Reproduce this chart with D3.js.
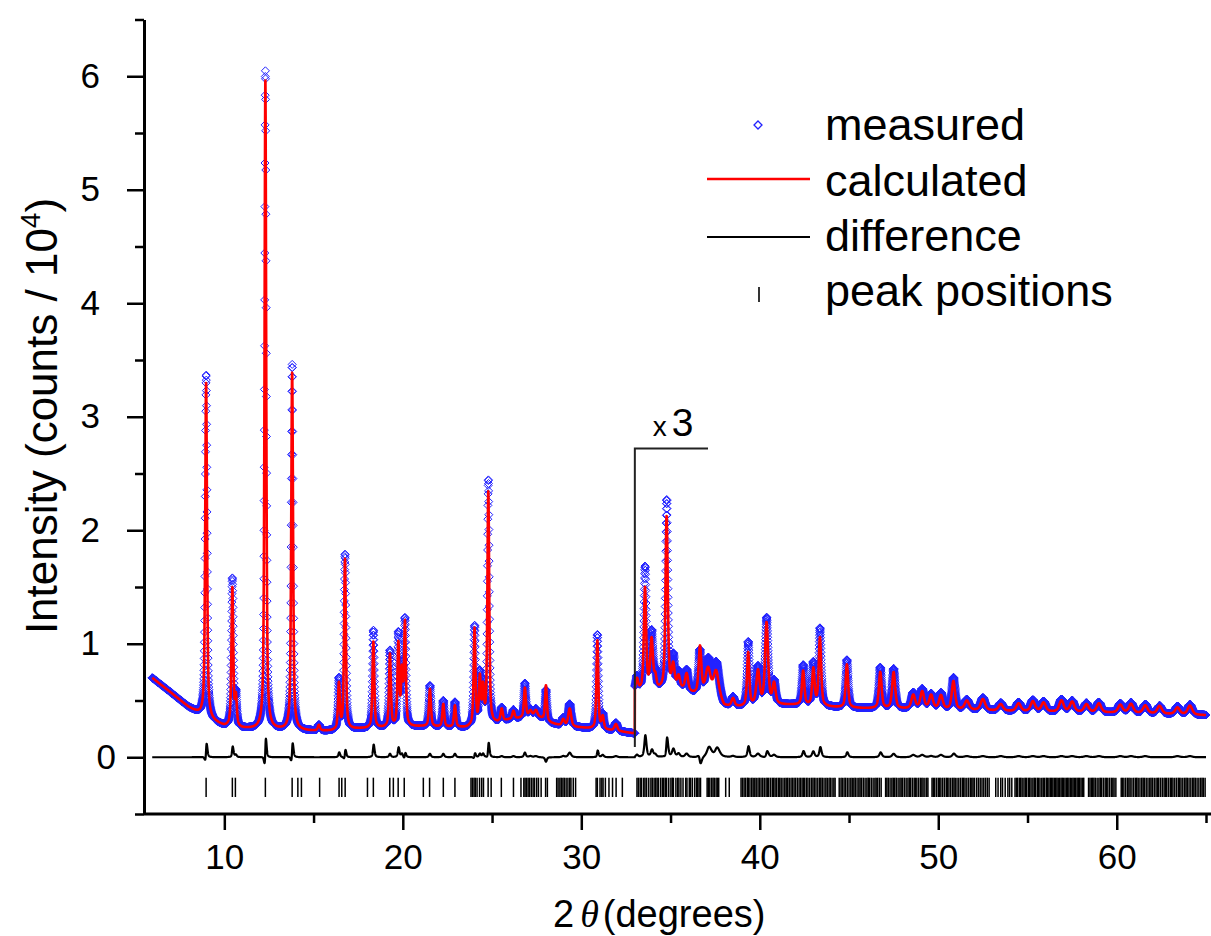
<!DOCTYPE html>
<html><head><meta charset="utf-8">
<script src="https://cdn.jsdelivr.net/npm/d3@7"></script>
<style>
html,body{margin:0;padding:0;background:#fff;}
text{font-family:"Liberation Sans", Arial, sans-serif;fill:#000;}
</style></head><body>
<svg id="chart" width="1211" height="936"></svg>
<script>
// ---------------- data ----------------
const xTicks = [10, 20, 30, 40, 50, 60];
const xMinorTicks = [15, 25, 35, 45, 55, 65];
const yTicks = [0, 1, 2, 3, 4, 5, 6];
const yMinorTicks = [-0.5, 0.5, 1.5, 2.5, 3.5, 4.5, 5.5, 6.5];
const scaleBreak = 33;          // intensities shown x3 above this angle
const scaleFactorLabel = "3";
const stepDeg = 0.006, scanStart = 5.96, scanEnd = 65.0;
const lorentzFraction = 0.6;

// background anchors (displayed units)
const bgLowX  = [5.96, 7.0, 8.0, 8.6, 9.3, 10.0, 11.0, 13.0, 15.0, 16.0, 17.5, 21.0, 23.5, 25.3, 26.0, 27.5, 28.3, 29.0, 30.0, 32.0, 32.99];
const bgLowY  = [0.70, 0.57, 0.44, 0.38, 0.32, 0.27, 0.25, 0.24, 0.23, 0.23, 0.25, 0.27, 0.26, 0.30, 0.33, 0.36, 0.30, 0.27, 0.26, 0.23, 0.21];
const bgHighX = [33.0, 34.0, 35.5, 36.3, 37.8, 38.0, 39.0, 41.0, 42.0, 44.2, 46.0, 50.0, 55.0, 60.0, 65.0];
const bgHighY = [0.58, 0.58, 0.60, 0.55, 0.48, 0.44, 0.44, 0.46, 0.46, 0.44, 0.43, 0.42, 0.40, 0.39, 0.37];

// reflections fitted: position (deg), calculated height, observed height, observed shift (deg), FWHM (deg)
const peakPos    = [8.98, 10.45, 10.65, 12.30, 13.80, 15.30, 16.42, 16.76, 18.35, 19.28, 19.75, 19.95, 20.12, 21.52, 22.27, 22.92, 24.02, 24.32, 24.50, 24.79, 25.54, 26.20, 26.84, 27.15, 27.45, 28.02, 28.99, 29.35, 30.90, 31.20, 31.94,
                    33.12, 33.57, 33.94, 34.15, 34.78, 35.15, 35.45, 35.90, 36.65, 37.10, 37.55, 38.50, 39.35, 39.90, 40.38, 40.80, 42.43, 43.00, 43.37, 44.88,
                    46.75, 47.50, 48.60, 49.10, 49.60, 50.15, 50.85, 51.60, 52.50, 53.50, 54.50, 55.30, 55.90, 56.90, 57.50, 58.30, 59.00, 60.20, 60.80, 61.60, 62.40, 63.40, 64.10];
const calcHeight = [2.95, 1.22, 0.25, 5.72, 3.15, 0.05, 0.40, 1.50, 0.76, 0.64, 0.72, 0.45, 0.90, 0.33, 0.20, 0.19, 0.85, 0.40, 0.30, 2.04, 0.11, 0.07, 0.26, 0.05, 0.05, 0.31, 0.06, 0.16, 0.78, 0.11, 0.06,
                    0.10, 0.90, 0.44, 0.10, 1.52, 0.20, 0.10, 0.15, 0.42, 0.25, 0.25, 0.07, 0.47, 0.30, 0.72, 0.18, 0.30, 0.32, 0.60, 0.38,
                    0.32, 0.32, 0.12, 0.15, 0.12, 0.12, 0.25, 0.08, 0.10, 0.06, 0.07, 0.09, 0.08, 0.10, 0.09, 0.07, 0.08, 0.07, 0.08, 0.07, 0.07, 0.06, 0.08];
const obsHeight  = [3.02, 1.30, 0.27, 5.80, 3.22, 0.05, 0.44, 1.54, 0.86, 0.67, 0.80, 0.48, 0.92, 0.36, 0.23, 0.22, 0.87, 0.43, 0.33, 2.14, 0.12, 0.08, 0.30, 0.06, 0.06, 0.27, 0.07, 0.20, 0.83, 0.13, 0.07,
                    0.12, 1.08, 0.50, 0.12, 1.66, 0.27, 0.13, 0.18, 0.38, 0.33, 0.32, 0.08, 0.56, 0.33, 0.76, 0.20, 0.35, 0.37, 0.68, 0.42,
                    0.36, 0.35, 0.14, 0.17, 0.13, 0.14, 0.28, 0.09, 0.11, 0.07, 0.08, 0.10, 0.09, 0.11, 0.10, 0.08, 0.09, 0.08, 0.09, 0.08, 0.07, 0.07, 0.09];
const obsShift   = [0.002, 0.002, 0, 0.0015, 0.002, 0, 0.002, 0.002, 0.003, 0, 0.002, 0, 0.002, 0, 0, 0, 0.002, 0, 0, 0.002, 0, 0, 0, 0, 0, 0, 0, 0, 0.002, 0, 0,
                    0, 0.004, 0.003, 0, 0.004, 0.003, 0, 0, -0.01, 0.02, 0.02, 0, 0.004, 0, 0.004, 0, 0.004, 0, 0.004, 0.003,
                    0.003, 0, 0, 0, 0, 0, 0.003, 0, 0, 0, 0, 0, 0, 0, 0, 0, 0, 0, 0, 0, 0, 0, 0];
const peakFwhm   = [0.12, 0.12, 0.12, 0.11, 0.12, 0.15, 0.12, 0.12, 0.12, 0.12, 0.12, 0.12, 0.12, 0.13, 0.13, 0.13, 0.12, 0.12, 0.12, 0.12, 0.15, 0.15, 0.13, 0.20, 0.20, 0.12, 0.18, 0.20, 0.12, 0.15, 0.20,
                    0.15, 0.15, 0.18, 0.15, 0.15, 0.18, 0.18, 0.20, 0.18, 0.35, 0.35, 0.20, 0.15, 0.22, 0.20, 0.20, 0.16, 0.16, 0.16, 0.16,
                    0.18, 0.20, 0.25, 0.25, 0.25, 0.25, 0.22, 0.30, 0.30, 0.30, 0.30, 0.30, 0.30, 0.30, 0.30, 0.30, 0.30, 0.30, 0.30, 0.30, 0.30, 0.30, 0.30];

// Bragg reflection markers (deg)
const reflections = [8.98, 10.45, 10.62, 12.30, 13.80, 14.12, 14.32, 15.34, 16.43, 16.58, 16.77, 18.02, 18.35, 19.27, 19.47, 19.74, 20.08, 21.15, 21.50, 22.27, 22.92,
 23.82, 23.90, 23.99, 24.06, 24.16, 24.30, 24.42, 24.52, 24.78, 24.95, 25.52, 26.20, 26.62, 26.78, 26.85, 26.93, 27.02, 27.10, 27.20, 27.30, 27.38, 27.50, 27.60, 27.75, 28.00, 28.10,
 28.62, 28.70, 28.80, 28.88, 28.97, 29.05, 29.15, 29.25, 29.35, 29.42, 29.55, 29.68, 30.83, 30.90, 31.05, 31.15, 31.22, 31.35, 31.55, 31.75, 31.95, 32.30,
 33.12, 33.20, 33.30, 33.38, 33.50, 33.57, 33.66, 33.78, 33.90, 33.98, 34.08, 34.17, 34.25, 34.33, 34.45, 34.55, 34.62, 34.71, 34.78, 34.90, 35.02, 35.10, 35.16, 35.30, 35.40, 35.47, 35.58, 35.70, 35.85, 35.92,
 36.05, 36.12, 36.22, 36.35, 36.45, 36.52, 36.60, 36.68, 37.05, 37.12, 37.20, 37.30, 37.38, 37.45, 37.55, 37.62, 37.70, 38.09, 38.29,
 38.95, 39.03, 39.12, 39.20, 39.30, 39.36, 39.45, 39.55, 39.63, 39.72, 39.80, 39.90, 39.98, 40.07, 40.16, 40.25, 40.35, 40.42, 40.50, 40.60, 40.70, 40.78, 40.86, 40.95,
 41.05, 41.12, 41.20, 41.30, 41.40, 41.48, 41.56, 41.65, 41.75, 41.83, 41.92, 42.00, 42.10, 42.20, 42.28, 42.37, 42.45, 42.52, 42.62, 42.70, 42.80, 42.90, 42.98,
 43.06, 43.15, 43.25, 43.35, 43.42, 43.50, 43.60, 43.70, 43.78, 43.88, 43.95, 44.05, 44.15, 44.22, 44.45, 44.55, 44.62, 44.72, 44.80, 44.90, 45.00, 45.10, 45.18, 45.27, 45.35, 45.45, 45.55, 45.62, 45.70, 45.80, 45.90,
 46.00, 46.08, 46.15, 46.25, 46.35, 46.45, 46.52, 46.60, 46.70, 46.80, 47.05, 47.12, 47.20, 47.30, 47.40, 47.48, 47.56, 47.65, 47.75, 47.85, 47.92,
 48.00, 48.10, 48.20, 48.30, 48.38, 48.45, 48.55, 48.65, 48.72, 48.80, 48.90, 49.00, 49.08, 49.15, 49.25, 49.35, 49.42, 49.65, 49.72, 49.80, 49.90,
 50.00, 50.08, 50.15, 50.25, 50.35, 50.45, 50.52, 50.60, 50.70, 50.80, 50.88, 50.95, 51.05, 51.15, 51.25, 51.35, 51.42, 51.50, 51.60, 51.70, 51.80, 51.88, 51.95,
 52.03, 52.15, 52.25, 52.35, 52.45, 52.55, 52.65, 52.75, 52.85, 53.22, 53.35, 53.50, 53.60, 53.75, 53.90, 54.00, 54.12, 54.30, 54.38, 54.45, 54.55, 54.62, 54.70, 54.80, 54.88, 54.95,
 55.05, 55.12, 55.20, 55.30, 55.38, 55.45, 55.55, 55.62, 55.70, 55.80, 55.88, 55.95, 56.05, 56.12, 56.20, 56.28, 56.35, 56.42, 56.50, 56.58, 56.65, 56.72, 56.80, 56.88, 56.95,
 57.02, 57.10, 57.18, 57.25, 57.32, 57.40, 57.48, 57.55, 57.62, 57.70, 57.78, 57.85, 57.92, 58.00, 58.08, 58.15, 58.42, 58.50, 58.58, 58.65, 58.72, 58.80, 58.90,
 59.00, 59.08, 59.15, 59.25, 59.35, 59.42, 59.50, 59.60, 59.70, 59.78, 59.85, 59.95, 60.25, 60.32, 60.40, 60.50, 60.60, 60.68, 60.75, 60.85, 60.95,
 61.05, 61.12, 61.20, 61.30, 61.40, 61.48, 61.55, 61.65, 61.75, 61.85, 61.92, 62.00, 62.10, 62.20, 62.28, 62.35, 62.45, 62.55, 62.65, 62.72, 62.80, 62.90,
 63.00, 63.08, 63.15, 63.25, 63.35, 63.45, 63.52, 63.60, 63.70, 63.80, 63.88, 63.95, 64.05, 64.15, 64.25, 64.32, 64.40, 64.50, 64.60, 64.70, 64.78, 64.85, 64.95];
const reflectionTop = -0.18, reflectionBottom = -0.35;
const bracketTop = 2.72, bracketBottom = 0.09, bracketEnd = 37.1;

const legendLabels = ["measured", "calculated", "difference", "peak positions"];

// ---------------- scales ----------------
const svg = d3.select("#chart");
const x = d3.scaleLinear().domain([5.5, 65]).range([144, 1206]);
const y = d3.scaleLinear().domain([-0.5, 6.5]).range([814, 19.5]);

const bgLow = d3.scaleLinear().domain(bgLowX).range(bgLowY).clamp(true);
const bgHigh = d3.scaleLinear().domain(bgHighX).range(bgHighY).clamp(true);
const K = 4 * Math.LN2;
function pv(t, p, h, w) { const u = (t - p) / w; return h * (lorentzFraction / (1 + 4 * u * u) + (1 - lorentzFraction) * Math.exp(-K * u * u)); }
function profile(t, heights, shifts) {
  const high = t >= scaleBreak;
  let s = high ? bgHigh(t) : bgLow(t);
  for (let i = 0; i < peakPos.length; i++) {
    if ((peakPos[i] >= scaleBreak) !== high) continue;
    if (Math.abs(t - peakPos[i]) > 4) continue;
    s += pv(t, peakPos[i] + (shifts ? shifts[i] : 0), heights[i], peakFwhm[i]);
  }
  return s;
}
const grid = d3.range(scanStart, scanEnd + 1e-9, stepDeg);
const measured = grid.map(t => ({ t, v: profile(t, obsHeight, obsShift) }));
const calculated = grid.map(t => ({ t, v: profile(t, calcHeight, null) }));
const difference = grid.map((t, i) => ({ t, v: measured[i].v - calculated[i].v }));

// ---------------- marks ----------------
const blue = "#2222ff", red = "#ff0000";
function diamond(cx, cy, r) { return `M${cx.toFixed(1)},${(cy - r).toFixed(1)}l${r},${r}l${-r},${r}l${-r},${-r}z`; }

svg.append("path")
  .attr("d", measured.map(d => diamond(x(d.t), y(d.v), 4)).join(""))
  .attr("fill", "none").attr("stroke", blue).attr("stroke-width", 1);

const line = d3.line().x(d => x(d.t)).y(d => y(d.v));
svg.append("path").attr("d", line(calculated)).attr("fill", "none").attr("stroke", red).attr("stroke-width", 2.6).attr("stroke-linejoin", "round");
svg.append("path").attr("d", line(difference)).attr("fill", "none").attr("stroke", "#000").attr("stroke-width", 2.2).attr("stroke-linejoin", "round");

svg.append("g").selectAll("line").data(reflections).join("line")
  .attr("x1", d => x(d)).attr("x2", d => x(d))
  .attr("y1", y(reflectionTop)).attr("y2", y(reflectionBottom))
  .attr("stroke", "#000").attr("stroke-width", 1.5);

// x3 bracket
svg.append("path")
  .attr("d", `M${x(scaleBreak)},${y(bracketBottom)}V${y(bracketTop)}H${x(bracketEnd)}`)
  .attr("fill", "none").attr("stroke", "#222").attr("stroke-width", 2);
const xl = svg.append("text").attr("x", x(scaleBreak) + 18).attr("y", y(bracketTop) - 13);
xl.append("tspan").style("font-size", "28px").text("x");
xl.append("tspan").attr("dx", 5).style("font-size", "39px").text(scaleFactorLabel);

// ---------------- axes ----------------
const gx = svg.append("g").attr("transform", `translate(0,${y(-0.5)})`)
  .call(d3.axisBottom(x).tickValues(xTicks).tickSize(16).tickPadding(14).tickSizeOuter(0).tickFormat(d3.format("d")));
const gxm = svg.append("g").attr("transform", `translate(0,${y(-0.5)})`)
  .call(d3.axisBottom(x).tickValues(xMinorTicks).tickSize(9).tickFormat(""));
gxm.select(".domain").remove();
gx.select(".domain").remove();
svg.append("line").attr("x1", x(5.5)).attr("x2", 1211).attr("y1", y(-0.5)).attr("y2", y(-0.5)).attr("stroke", "#000").attr("stroke-width", 3);

const gy = svg.append("g").attr("transform", `translate(${x(5.5)},0)`)
  .call(d3.axisLeft(y).tickValues(yTicks).tickSize(17).tickPadding(27).tickSizeOuter(0).tickFormat(d3.format("d")));
const gym = svg.append("g").attr("transform", `translate(${x(5.5)},0)`)
  .call(d3.axisLeft(y).tickValues(yMinorTicks).tickSize(9).tickFormat(""));
gym.select(".domain").remove();
gy.select(".domain").attr("stroke-width", 3);
gy.selectAll(".tick text").filter(d => d === 0).attr("dx", 16);

[gx, gxm, gy, gym].forEach(g => {
  g.selectAll(".tick line").attr("stroke", "#000").attr("stroke-width", 2.5);
  g.selectAll(".tick text").style("font-size", "35px").style("font-family", "'Liberation Sans', Arial, sans-serif").attr("fill", "#000");
});

// axis titles
const yt = svg.append("text").attr("transform", "translate(57,416) rotate(-90)").attr("text-anchor", "middle").style("font-size", "44px");
yt.append("tspan").text("Intensity (counts / 10");
yt.append("tspan").attr("dy", -17).style("font-size", "28px").text("4");
yt.append("tspan").attr("dy", 17).text(")");

const xt = svg.append("text").attr("x", 553).attr("y", 927).style("font-size", "38px");
xt.append("tspan").text("2");
xt.append("tspan").attr("dx", 6).style("font-family", "'Liberation Serif', serif").style("font-style", "italic").text("θ");
xt.append("tspan").attr("dx", 4).text("(degrees)");

// ---------------- legend ----------------
const legBase = [140, 196, 251, 306];
const lg = svg.append("g");
lg.append("path").attr("d", diamond(758, 125, 4)).attr("fill", "none").attr("stroke", blue).attr("stroke-width", 1.3);
lg.append("line").attr("x1", 707).attr("x2", 810).attr("y1", 179).attr("y2", 179).attr("stroke", red).attr("stroke-width", 2.6);
lg.append("line").attr("x1", 707).attr("x2", 810).attr("y1", 237).attr("y2", 237).attr("stroke", "#000").attr("stroke-width", 2);
lg.append("line").attr("x1", 759).attr("x2", 759).attr("y1", 287).attr("y2", 302).attr("stroke", "#000").attr("stroke-width", 1.6);
lg.selectAll("text.lab").data(legendLabels).join("text").attr("class", "lab")
  .attr("x", 825).attr("y", (d, i) => legBase[i]).style("font-size", "45px").text(d => d);
</script>
</body></html>
